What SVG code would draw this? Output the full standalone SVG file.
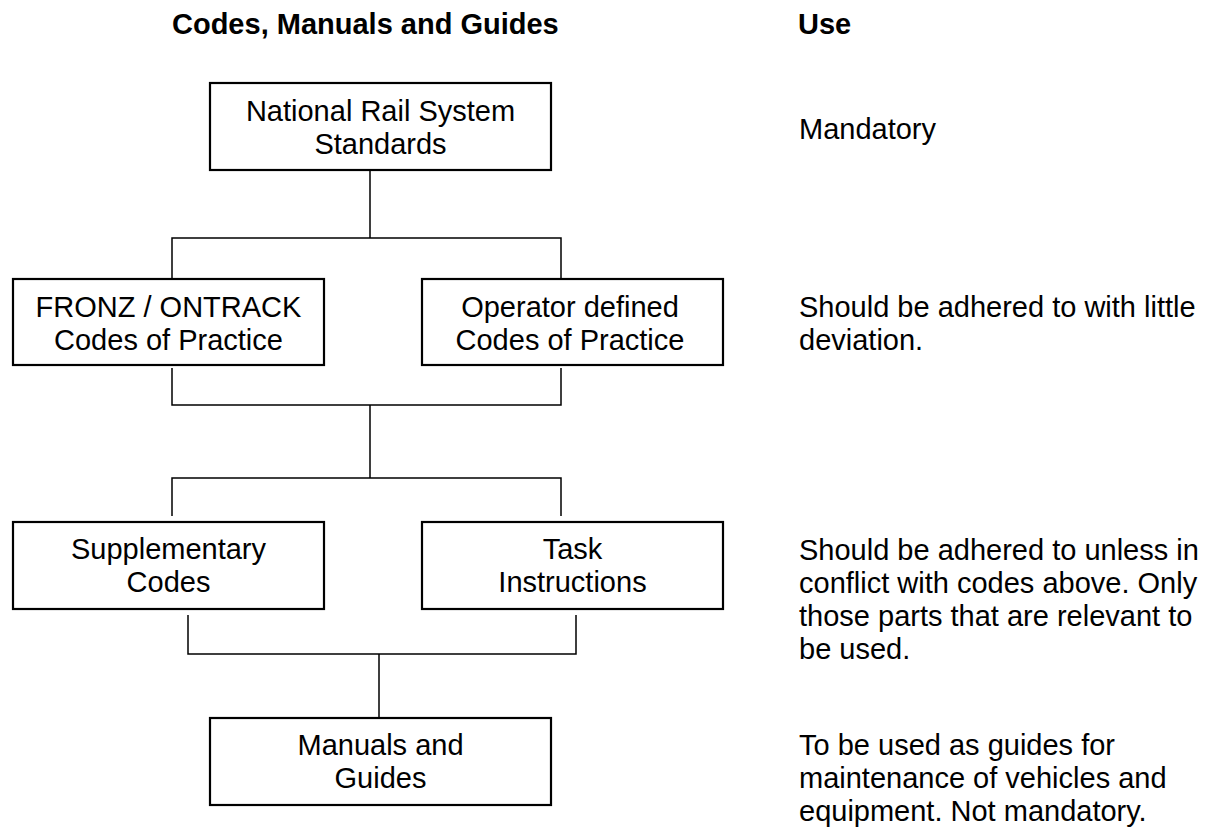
<svg xmlns="http://www.w3.org/2000/svg" width="1216" height="827" viewBox="0 0 1216 827">
<style>
.bg{fill:#fff}
.box{fill:#fff;stroke:#000;stroke-width:2.2}
.conn{fill:none;stroke:#000;stroke-width:1.5}
text{font-family:"Liberation Sans",Arial,sans-serif;font-size:29px;fill:#000}
.c{text-anchor:middle}
.h{font-weight:bold}
</style>
<rect class="bg" x="0" y="0" width="1216" height="827"/>
<g id="headings">
<text class="h" x="172" y="34">Codes, Manuals and Guides</text>
<text class="h" x="798" y="34">Use</text>
</g>
<g id="connectors">
<path class="conn" d="M370 170V238M172 278V238H561V278"/>
<path class="conn" d="M172 368V405H561V368M370 405V478M172 516V478H561V516"/>
<path class="conn" d="M188 615V654H576V615M379 654V718"/>
</g>
<g id="node-nrs">
<rect class="box" x="210" y="83" width="341" height="87"/>
<text class="c" x="380.5" y="121">National Rail System</text>
<text class="c" x="380.5" y="154">Standards</text>
</g>
<g id="node-fronz">
<rect class="box" x="13" y="279" width="311" height="86"/>
<text class="c" x="168.5" y="317">FRONZ / ONTRACK</text>
<text class="c" x="168.5" y="350">Codes of Practice</text>
</g>
<g id="node-operator">
<rect class="box" x="422" y="279" width="301" height="86"/>
<text class="c" x="570" y="317">Operator defined</text>
<text class="c" x="570" y="350">Codes of Practice</text>
</g>
<g id="node-supplementary">
<rect class="box" x="13" y="522" width="311" height="87"/>
<text class="c" x="168.5" y="559">Supplementary</text>
<text class="c" x="168.5" y="592">Codes</text>
</g>
<g id="node-task">
<rect class="box" x="422" y="522" width="301" height="87"/>
<text class="c" x="572.5" y="559">Task</text>
<text class="c" x="572.5" y="592">Instructions</text>
</g>
<g id="node-manuals">
<rect class="box" x="210" y="718" width="341" height="87"/>
<text class="c" x="380.5" y="755">Manuals and</text>
<text class="c" x="380.5" y="788">Guides</text>
</g>
<g id="use-notes">
<text x="799" y="139">Mandatory</text>
<text x="799" y="317">Should be adhered to with little</text>
<text x="799" y="350">deviation.</text>
<text x="799" y="560">Should be adhered to unless in</text>
<text x="799" y="593">conflict with codes above. Only</text>
<text x="799" y="626">those parts that are relevant to</text>
<text x="799" y="659">be used.</text>
<text x="799" y="755">To be used as guides for</text>
<text x="799" y="788">maintenance of vehicles and</text>
<text x="799" y="821">equipment. Not mandatory.</text>
</g>
</svg>
